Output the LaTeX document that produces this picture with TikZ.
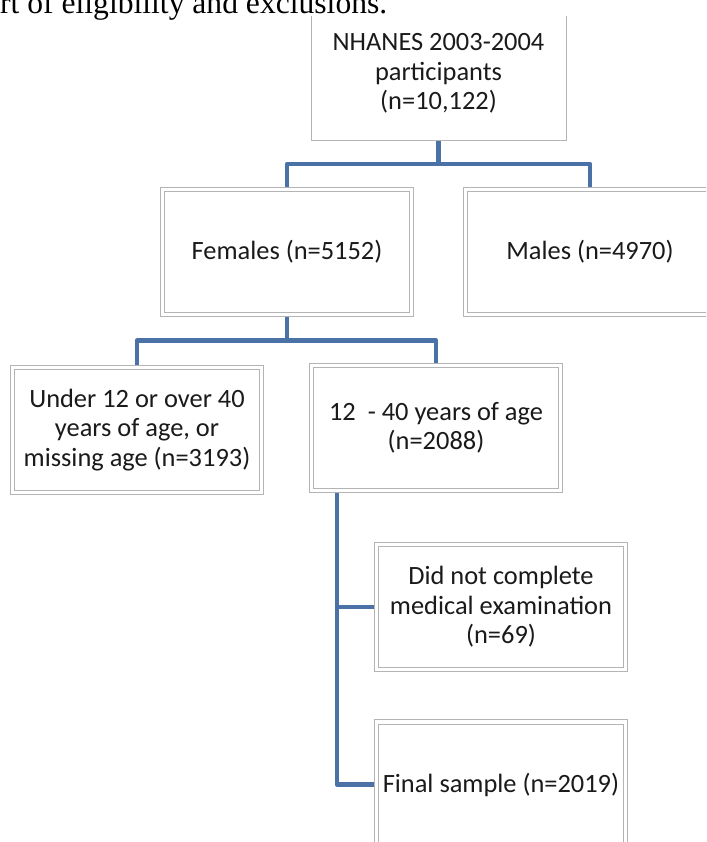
\documentclass[tikz,border=0pt]{standalone}
\usepackage{fontspec}
\setmainfont{Carlito}
\newfontfamily\capfont{Liberation Serif}
\usetikzlibrary{backgrounds}
\definecolor{connc}{HTML}{4A72A6}
\definecolor{framec}{HTML}{B4B4B4}
\definecolor{txtc}{HTML}{1A1A1A}
\begin{document}
\begin{tikzpicture}[x=1pt,y=-1pt,
  box/.style={draw=framec, line width=0.8pt, double=white, double distance=3.6pt,
    fill=white, minimum width=249pt, minimum height=125pt, inner sep=0pt, outer sep=0pt,
    align=center, font=\fontsize{26.4}{29.5}\selectfont, text=txtc},
  topbox/.style={minimum width=255pt, minimum height=124pt, inner sep=0pt, outer sep=0pt},
  topframe/.style={draw=framec, line width=0.9pt},
  boxtext/.style={align=center, inner sep=0pt, font=\fontsize{26.4}{29.5}\selectfont, text=txtc},
  connline/.style={draw=connc, line width=4.6pt, line join=round}]
\useasboundingbox (0,0) rectangle (706,842);
\clip (0,0) rectangle (706,842);

\node[topbox] (top) at (438.5,78) {};
\draw[topframe] (top.north west) -- (top.south west) -- (top.south east) -- (top.north east);
\node[boxtext] (toptext) at (438.5,73.5) {NHANES 2003-2004\\participants\\(n=10,122)};

\node[anchor=base west, inner sep=0pt, font=\capfont\fontsize{31.6}{36}\selectfont] (cap) at (0,14) {rt of eligibility and exclusions.};

\node[box] (fem) at (287,252) {Females (n=5152)};
\node[box] (male) at (590,252) {Males (n=4970)};
\node[box] (under) at (137,430) {Under 12 or over 40\\years of age, or\\missing age (n=3193)};
\node[box] (age) at (436,428) {12 \ - 40 years of age\\(n=2088)};
\node[box] (did) at (501,607) {Did not complete\\medical examination\\(n=69)};
\node[box] (final) at (501,784.5) {Final sample (n=2019)};

\begin{pgfonlayer}{background}
\draw[connline] (top.south) -- ++(0,24) coordinate (h1) -| (fem.north);
\draw[connline] (h1) -| (male.north);
\draw[connline] (fem.south) -- ++(0,26) coordinate (h2) -| (under.north);
\draw[connline] (h2) -| (age.north);
\coordinate (trunk) at ([xshift=-99pt]age.south);
\draw[connline] (trunk) |- (did.west);
\draw[connline] (trunk) |- (final.west);
\end{pgfonlayer}
\end{tikzpicture}
\end{document}
